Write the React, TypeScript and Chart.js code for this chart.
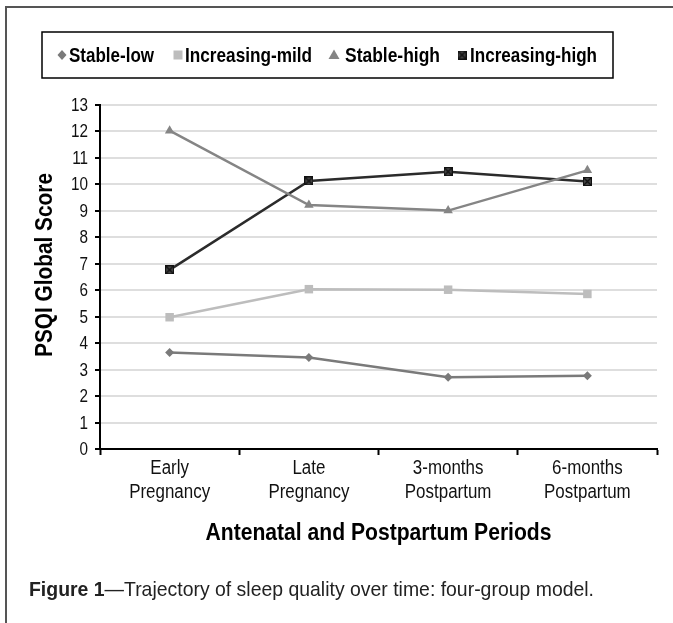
import React, { useEffect, useRef } from 'react';
import { Chart, registerables } from 'chart.js';

Chart.register(...registerables);

const categories: string[][] = [
  ['Early', 'Pregnancy'],
  ['Late', 'Pregnancy'],
  ['3-months', 'Postpartum'],
  ['6-months', 'Postpartum'],
];
const seriesNames = ['Stable-low', 'Increasing-mild', 'Stable-high', 'Increasing-high'];
const stableLow = [3.65, 3.46, 2.71, 2.77];
const increasingMild = [4.98, 6.04, 6.02, 5.86];
const stableHigh = [12.03, 9.22, 9.01, 10.53];
const increasingHigh = [6.77, 10.13, 10.48, 10.11];
const yMin = 0;
const yMax = 13;
const yStep = 1;
const yTitle = 'PSQI Global Score';
const xTitle = 'Antenatal and Postpartum Periods';
const captionBold = 'Figure 1';
const captionRest = '\u2014Trajectory of sleep quality over time: four-group model.';

const FONT = '"Liberation Sans Narrow", "Liberation Sans", Arial, sans-serif';
const colors = ['#7a7a7a', '#bdbdbd', '#858585', '#2b2b2b'];

function makeXSquare(size: number, fill: string, stroke: string) {
  const c = document.createElement('canvas');
  c.width = size;
  c.height = size;
  const g = c.getContext('2d')!;
  g.fillStyle = fill;
  g.fillRect(0, 0, size, size);
  g.strokeStyle = stroke;
  g.lineWidth = 1.3;
  g.beginPath();
  g.moveTo(1, 1);
  g.lineTo(size - 1, size - 1);
  g.moveTo(size - 1, 1);
  g.lineTo(1, size - 1);
  g.stroke();
  g.lineWidth = 1;
  g.strokeRect(0.5, 0.5, size - 1, size - 1);
  return c;
}

function drawScaled(ctx: CanvasRenderingContext2D, text: string, x: number, y: number, s: number, align: CanvasTextAlign) {
  ctx.save();
  ctx.translate(x, y);
  ctx.scale(s, 1);
  ctx.textAlign = align;
  ctx.fillText(text, 0, 0);
  ctx.restore();
}

function fitText(ctx: CanvasRenderingContext2D, text: string, x: number, y: number, targetW: number, align: CanvasTextAlign) {
  const w = ctx.measureText(text).width;
  drawScaled(ctx, text, x, y, targetW / w, align);
}

export default function App() {
  const ref = useRef<HTMLCanvasElement | null>(null);

  useEffect(() => {
    if (!ref.current) return;
    const xSq = makeXSquare(9, '#444', '#111');

    const overlay = {
      id: 'overlay',
      beforeDraw(chart: any) {
        const ctx = chart.ctx as CanvasRenderingContext2D;
        ctx.save();
        ctx.fillStyle = '#fff';
        ctx.fillRect(0, 0, chart.width, chart.height);
        ctx.restore();
      },
      afterDraw(chart: any) {
        const ctx = chart.ctx as CanvasRenderingContext2D;
        const area = chart.chartArea;
        ctx.save();
        // outer frame
        ctx.strokeStyle = '#555';
        ctx.lineWidth = 2;
        ctx.beginPath();
        ctx.moveTo(6, 623);
        ctx.lineTo(6, 7);
        ctx.lineTo(673, 7);
        ctx.stroke();

        ctx.textBaseline = 'middle';

        // y tick labels
        const ys = chart.scales.y;
        ctx.fillStyle = '#111';
        ctx.font = `18px ${FONT}`;
        const sy = 17 / ctx.measureText('13').width;
        ys.ticks.forEach((t: any, i: number) => {
          drawScaled(ctx, String(t.value), 88, ys.getPixelForTick(i) + 1, sy, 'right');
        });

        // x tick labels
        const xs = chart.scales.x;
        ctx.font = `20px ${FONT}`;
        const sx = 81 / ctx.measureText('Pregnancy').width;
        categories.forEach((lines, i) => {
          const px = xs.getPixelForTick(i);
          lines.forEach((t, j) => drawScaled(ctx, t, px, 468 + j * 24, sx, 'center'));
        });

        // legend box
        ctx.strokeStyle = '#000';
        ctx.lineWidth = 1.5;
        ctx.strokeRect(42, 32, 571, 46);
        ctx.font = `bold 21px ${FONT}`;
        const ly = 55;
        const markerX = [62, 178, 334, 462];
        const textX = [69, 185, 345, 470];
        const textW = [85, 127, 95, 127];
        seriesNames.forEach((name, i) => {
          const mx = markerX[i];
          ctx.fillStyle = colors[i];
          if (i === 0) {
            ctx.beginPath();
            ctx.moveTo(mx, ly - 5);
            ctx.lineTo(mx + 4.5, ly);
            ctx.lineTo(mx, ly + 5);
            ctx.lineTo(mx - 4.5, ly);
            ctx.closePath();
            ctx.fill();
          } else if (i === 1) {
            ctx.fillRect(mx - 4.5, ly - 4.5, 9, 9);
          } else if (i === 2) {
            ctx.beginPath();
            ctx.moveTo(mx, ly - 5.5);
            ctx.lineTo(mx + 5.5, ly + 4);
            ctx.lineTo(mx - 5.5, ly + 4);
            ctx.closePath();
            ctx.fill();
          } else {
            ctx.drawImage(xSq, mx - 4.5, ly - 4.5, 9, 9);
          }
          ctx.fillStyle = '#000';
          fitText(ctx, name, textX[i], ly + 1, textW[i], 'left');
        });

        // y title
        ctx.font = `bold 23px ${FONT}`;
        ctx.save();
        ctx.translate(46, (area.top + area.bottom) / 2 - 12);
        ctx.rotate(-Math.PI / 2);
        fitText(ctx, yTitle, 0, 0, 184, 'center');
        ctx.restore();

        // x title
        fitText(ctx, xTitle, (area.left + area.right) / 2, 534, 346, 'center');

        // caption
        ctx.font = `bold 21px ${FONT}`;
        const bw = ctx.measureText(captionBold).width;
        ctx.font = `21px ${FONT}`;
        const rw = ctx.measureText(captionRest).width;
        const s = 565 / (bw + rw);
        ctx.save();
        ctx.translate(29, 590);
        ctx.scale(s, 1);
        ctx.textAlign = 'left';
        ctx.font = `bold 21px ${FONT}`;
        ctx.fillStyle = '#222';
        ctx.fillText(captionBold, 0, 0);
        ctx.font = `21px ${FONT}`;
        ctx.fillText(captionRest, bw, 0);
        ctx.restore();
        ctx.restore();
      },
    };

    const mk = (label: string, data: number[], i: number, style: any, radius: number) => ({
      label,
      data,
      borderColor: colors[i],
      backgroundColor: colors[i],
      borderWidth: 2.5,
      pointStyle: style,
      pointRadius: radius,
      pointBorderWidth: 0,
      pointBackgroundColor: colors[i],
      tension: 0,
    });

    const chart = new Chart(ref.current, {
      type: 'line',
      data: {
        labels: categories as any,
        datasets: [
          mk(seriesNames[0], stableLow, 0, 'rectRot', 4.5),
          mk(seriesNames[1], increasingMild, 1, 'rect', 6),
          mk(seriesNames[2], stableHigh, 2, 'triangle', 5.5),
          mk(seriesNames[3], increasingHigh, 3, xSq, 5),
        ],
      },
      options: {
        responsive: false,
        animation: false,
        devicePixelRatio: 1,
        layout: { padding: { left: 0, top: 105, right: 16, bottom: 0 } },
        plugins: {
          legend: { display: false },
          tooltip: { enabled: false },
          title: { display: false },
        },
        scales: {
          x: {
            type: 'category',
            offset: true,
            grid: {
              offset: true,
              drawOnChartArea: false,
              drawTicks: true,
              tickLength: 6,
              tickColor: '#000',
              tickWidth: 2,
            },
            border: { color: '#000', width: 2 },
            ticks: {
              color: 'rgba(0,0,0,0)',
              font: { family: FONT, size: 12 },
              padding: 2,
              maxRotation: 0,
              autoSkip: false,
            },
            afterFit: (s: any) => {
              s.height = 174;
            },
          },
          y: {
            min: yMin,
            max: yMax,
            ticks: {
              stepSize: yStep,
              color: 'rgba(0,0,0,0)',
              font: { family: FONT, size: 12 },
              padding: 7,
            },
            grid: {
              color: '#dedede',
              lineWidth: 2,
              tickColor: '#000',
              tickLength: 5,
              tickWidth: 2,
            },
            border: { color: '#000', width: 2 },
            afterFit: (s: any) => {
              s.width = 100;
            },
          },
        },
      } as any,
      plugins: [overlay],
    });
    return () => chart.destroy();
  }, []);

  return (
    <canvas
      ref={ref}
      width={673}
      height={623}
      style={{ position: 'absolute', left: 0, top: 0, width: 673, height: 623 }}
    />
  );
}
